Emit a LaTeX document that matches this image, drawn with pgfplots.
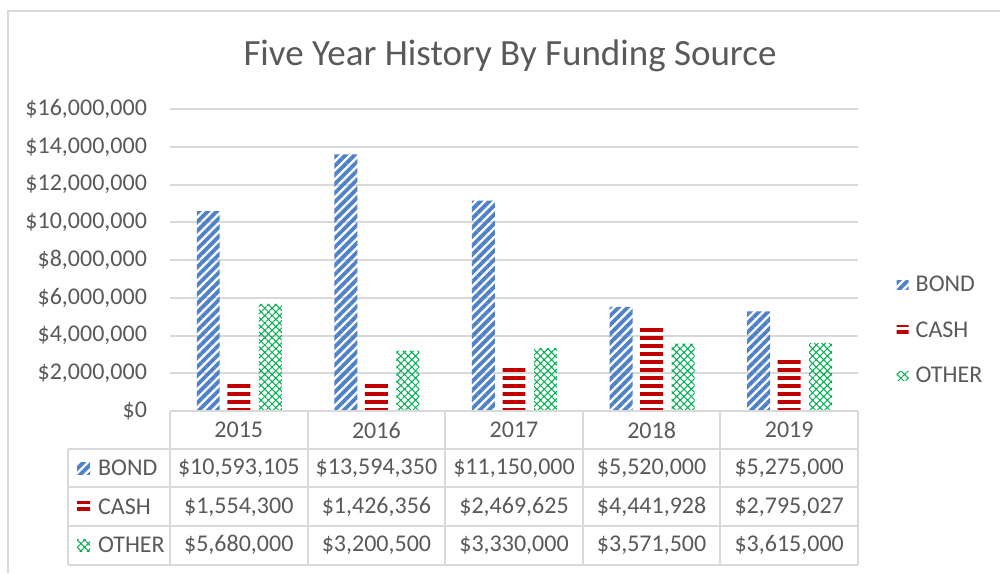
\documentclass[border=0pt]{standalone}
\usepackage{pgfplots}
\pgfplotsset{compat=1.18}
\usepackage{fontspec}
\setmainfont{Carlito}
\usetikzlibrary{patterns,patterns.meta}
\definecolor{bondc}{HTML}{4F81C8}
\definecolor{cashc}{HTML}{C00000}
\definecolor{otherc}{HTML}{00B050}
\definecolor{txt}{HTML}{595959}
\definecolor{gridc}{HTML}{D9D9D9}
\pgfdeclarepatternformonly{hstripes}{\pgfpoint{0pt}{0pt}}{\pgfpoint{1000pt}{3.85pt}}{\pgfpoint{1000pt}{3.85pt}}{
  \pgfpathrectangle{\pgfpoint{0pt}{0pt}}{\pgfpoint{1000pt}{2pt}}\pgfusepath{fill}}
\tikzset{
 bondpat/.style={pattern={Lines[angle=45,distance=3.2pt,line width=1.9pt]},pattern color=bondc},
 cashpat/.style={pattern=hstripes,pattern color=cashc},
 otherpat/.style={pattern={Hatch[angle=45,distance=2.6pt,line width=0.5pt]},pattern color=otherc},
}
\newcommand{\tfont}{\fontsize{12}{14}\selectfont}
\begin{document}
\begin{tikzpicture}
\begin{scope}[x=0.5pt,y=-0.5pt]
\useasboundingbox (0,0) rectangle (1000,573);
\draw[gridc,line width=1pt] (8,573) -- (8,11) -- (1000,11);
\node[text=txt,font=\fontsize{18.5}{22}\selectfont] at (510,56) {Five Year History By Funding Source};
\end{scope}
\begin{axis}[at={(85pt,-205.5pt)}, anchor=south west, scale only axis,
 width=344pt, height=151pt,
 xmin=-0.5, xmax=4.5, ymin=0, ymax=16000000,
 ybar, bar width=0.167,
 xtick=\empty, scaled y ticks=false,
 ytick={0,2000000,4000000,6000000,8000000,10000000,12000000,14000000,16000000},
 yticklabels={\$0,{\$2,000,000},{\$4,000,000},{\$6,000,000},{\$8,000,000},{\$10,000,000},{\$12,000,000},{\$14,000,000},{\$16,000,000}},
 ymajorgrids, grid style={gridc,line width=1pt},
 axis line style={draw=none}, major tick length=0pt,
 yticklabel style={font=\tfont, text=txt, xshift=-8pt},
 legend style={at={(1.047,0.265)}, anchor=west, draw=none, fill=none, font=\tfont, text=txt, row sep=9.5pt,
   /tikz/every odd column/.append style={column sep=1.5pt}},
 legend cell align=left,
 legend image code/.code={\fill[#1] (0pt,-2pt) rectangle (6pt,2.5pt);},
]
\addplot[draw=none, bondpat, bar shift=-0.222] coordinates {(0,10593105) (1,13594350) (2,11150000) (3,5520000) (4,5275000)};
\addplot[draw=none, cashpat, bar shift=0] coordinates {(0,1554300) (1,1426356) (2,2469625) (3,4441928) (4,2795027)};
\addplot[draw=none, otherpat, bar shift=0.229] coordinates {(0,5680000) (1,3200500) (2,3330000) (3,3571500) (4,3615000)};
\legend{BOND,CASH,OTHER}
\end{axis}
\begin{scope}[x=0.5pt,y=-0.5pt]
\draw[gridc,line width=1pt] (170,411) -- (858,411);
\foreach \yy in {449,487,526,565} \draw[gridc,line width=1pt] (68,\yy) -- (858,\yy);
\draw[gridc,line width=1pt] (68,449) -- (68,565);
\foreach \xx in {170,307.6,445.2,582.8,720.4,858} \draw[gridc,line width=1pt] (\xx,411) -- (\xx,565);
\foreach \yr [count=\i from 0] in {2015,2016,2017,2018,2019}
  \node[text=txt,font=\tfont] at (238.8+137.6*\i,430) {\yr};
\foreach \v [count=\i from 0] in {{\$10,593,105},{\$13,594,350},{\$11,150,000},{\$5,520,000},{\$5,275,000}}
  \node[text=txt,font=\tfont] at (238.8+137.6*\i,468) {\v};
\foreach \v [count=\i from 0] in {{\$1,554,300},{\$1,426,356},{\$2,469,625},{\$4,441,928},{\$2,795,027}}
  \node[text=txt,font=\tfont] at (238.8+137.6*\i,507) {\v};
\foreach \v [count=\i from 0] in {{\$5,680,000},{\$3,200,500},{\$3,330,000},{\$3,571,500},{\$3,615,000}}
  \node[text=txt,font=\tfont] at (238.8+137.6*\i,545) {\v};
\fill[bondpat] (77,462) rectangle (90,474);
\fill[cashpat] (77,501) rectangle (90,513);
\fill[otherpat] (77,539) rectangle (90,551);
\node[text=txt,font=\tfont,anchor=west] at (91,468) {BOND};
\node[text=txt,font=\tfont,anchor=west] at (91,507) {CASH};
\node[text=txt,font=\tfont,anchor=west] at (91,545) {OTHER};
\end{scope}
\end{tikzpicture}
\end{document}
